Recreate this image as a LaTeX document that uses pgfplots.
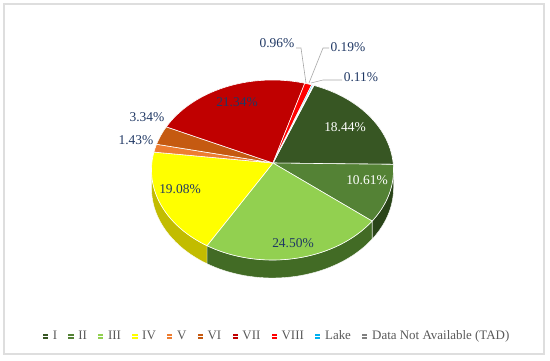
\documentclass[border=0pt]{standalone}
\usepackage{pgfplots}
\pgfplotsset{compat=1.18}
\usepackage{fontspec}
\setmainfont{Liberation Serif}
\definecolor{cI}{HTML}{375623}
\definecolor{cII}{HTML}{548235}
\definecolor{cIII}{HTML}{92D050}
\definecolor{cIV}{HTML}{FFFF00}
\definecolor{cV}{HTML}{ED7D31}
\definecolor{cVI}{HTML}{C55A11}
\definecolor{cVII}{HTML}{C00000}
\definecolor{cVIII}{HTML}{FF0000}
\definecolor{cLake}{HTML}{00B0F0}
\definecolor{cTAD}{HTML}{808080}
\definecolor{sII}{HTML}{2A4419}
\definecolor{sIII}{HTML}{426B25}
\definecolor{sIV}{HTML}{C2BC00}
\definecolor{lbl}{HTML}{203864}
\definecolor{lgd}{HTML}{595959}
% geometry of the tilted pie (pixel-like units)
\def\cx{272.5}\def\cy{190}\def\rx{121}\def\ry{90}\def\apx{273}\def\apy{197}\def\thick{18}
% shares in percent
\def\pI{18.44}\def\pII{10.61}\def\pIII{24.50}\def\pIV{19.08}\def\pV{1.43}%
\def\pVI{3.34}\def\pVII{21.34}\def\pVIII{0.96}\def\pLake{0.19}\def\pTAD{0.11}%
\pgfmathsetmacro\aI{70}%
\pgfmathsetmacro\bI{\aI-3.6*\pI}%
\pgfmathsetmacro\bII{\bI-3.6*\pII}%
\pgfmathsetmacro\bIII{\bII-3.6*\pIII}%
\pgfmathsetmacro\bIV{\bIII-3.6*\pIV}%
\pgfmathsetmacro\bV{\bIV-3.6*\pV}%
\pgfmathsetmacro\bVI{\bV-3.6*\pVI}%
\pgfmathsetmacro\bVII{\bVI-3.6*\pVII}%
\pgfmathsetmacro\bVIII{\bVII-3.6*\pVIII}%
\pgfmathsetmacro\bLake{\bVIII-3.6*\pLake}%
\pgfmathsetmacro\bTAD{\bLake-3.6*\pTAD}%
\tikzset{lab/.style={font=\fontsize{13.5}{15}\selectfont, inner sep=0pt}}
\begin{document}%
\begin{tikzpicture}
\begin{axis}[scale only axis, width=550bp, height=360bp,
  xmin=0, xmax=550, ymin=0, ymax=360, hide axis, clip=false,
  declare function={sang(\t,\p,\q)=(\t<=1)*(\p+(\q-\p)*\t)+(\t>1)*(\q+(\p-\q)*(\t-1)); sdrop(\t)=(\t>1)*\thick;},
  legend columns=10,
  legend image code/.code={\path[#1,draw=none] (0bp,-2.6bp) rectangle (5.2bp,2.6bp); \path (0bp,0bp) -- (7.6bp,0bp);},
  legend style={draw=none, fill=none, at={(0.5036,0.066)}, anchor=center,
    font=\fontsize{13}{15}\selectfont, text=lgd, inner sep=0pt,
    /tikz/every even column/.append style={column sep=9bp}}]
\path (axis cs:0,0) rectangle (axis cs:550,360);
\draw[color=black!13, line width=1.2bp] (axis cs:4,6) rectangle (axis cs:544,356);
% side walls
\addplot[forget plot, fill=sII, draw=white, line width=0.4pt, variable=\t,
  samples at={0,0.025,...,1,1.0001,1.025,1.05,...,1.975,2}]
  ({\cx+\rx*cos(sang(\t,0,\bII))},{\cy+\ry*sin(sang(\t,0,\bII))-sdrop(\t)}) -- cycle;
\addplot[forget plot, fill=sIII, draw=white, line width=0.4pt, variable=\t,
  samples at={0,0.025,...,1,1.0001,1.025,1.05,...,1.975,2}]
  ({\cx+\rx*cos(sang(\t,\bII,\bIII))},{\cy+\ry*sin(sang(\t,\bII,\bIII))-sdrop(\t)}) -- cycle;
\addplot[forget plot, fill=sIV, draw=white, line width=0.4pt, variable=\t,
  samples at={0,0.025,...,1,1.0001,1.025,1.05,...,1.975,2}]
  ({\cx+\rx*cos(sang(\t,\bIII,-180))},{\cy+\ry*sin(sang(\t,\bIII,-180))-sdrop(\t)}) -- cycle;
% top faces
\addplot[fill=cI, draw=white, line width=0.6pt, variable=\t, domain=\bI:\aI, samples=50]
  ({\cx+\rx*cos(\t)},{\cy+\ry*sin(\t)}) -- (axis cs:\apx,\apy) -- cycle;
\addplot[fill=cII, draw=white, line width=0.6pt, variable=\t, domain=\bII:\bI, samples=40]
  ({\cx+\rx*cos(\t)},{\cy+\ry*sin(\t)}) -- (axis cs:\apx,\apy) -- cycle;
\addplot[fill=cIII, draw=white, line width=0.6pt, variable=\t, domain=\bIII:\bII, samples=60]
  ({\cx+\rx*cos(\t)},{\cy+\ry*sin(\t)}) -- (axis cs:\apx,\apy) -- cycle;
\addplot[fill=cIV, draw=white, line width=0.6pt, variable=\t, domain=\bIV:\bIII, samples=50]
  ({\cx+\rx*cos(\t)},{\cy+\ry*sin(\t)}) -- (axis cs:\apx,\apy) -- cycle;
\addplot[fill=cV, draw=white, line width=0.6pt, variable=\t, domain=\bV:\bIV, samples=8]
  ({\cx+\rx*cos(\t)},{\cy+\ry*sin(\t)}) -- (axis cs:\apx,\apy) -- cycle;
\addplot[fill=cVI, draw=white, line width=0.6pt, variable=\t, domain=\bVI:\bV, samples=12]
  ({\cx+\rx*cos(\t)},{\cy+\ry*sin(\t)}) -- (axis cs:\apx,\apy) -- cycle;
\addplot[fill=cVII, draw=white, line width=0.6pt, variable=\t, domain=\bVII:\bVI, samples=50]
  ({\cx+\rx*cos(\t)},{\cy+\ry*sin(\t)}) -- (axis cs:\apx,\apy) -- cycle;
\addplot[fill=cVIII, draw=white, line width=0.6pt, variable=\t, domain=\bVIII:\bVII, samples=6]
  ({\cx+\rx*cos(\t)},{\cy+\ry*sin(\t)}) -- (axis cs:\apx,\apy) -- cycle;
\addplot[fill=cLake, draw=white, line width=0.6pt, variable=\t, domain=\bLake:\bVIII, samples=3]
  ({\cx+\rx*cos(\t)},{\cy+\ry*sin(\t)}) -- (axis cs:\apx,\apy) -- cycle;
\addplot[fill=cTAD, draw=white, line width=0.6pt, variable=\t, domain=\bTAD:\bLake, samples=3]
  ({\cx+\rx*cos(\t)},{\cy+\ry*sin(\t)}) -- (axis cs:\apx,\apy) -- cycle;
\legend{I,II,III,IV,V,VI,VII,VIII,Lake,Data Not Available (TAD)}
% leader lines
\addplot[forget plot, draw=black!35, line width=0.6pt] coordinates {(296,312) (301,312) (306,277)};
\addplot[forget plot, draw=black!35, line width=0.6pt] coordinates {(329,312) (323,312) (309,277)};
\addplot[forget plot, draw=black!35, line width=0.6pt] coordinates {(342,280) (323,280) (311,277)};
% labels
\node[lab, text=white] at (axis cs:345,233) {18.44\%};
\node[lab, text=white] at (axis cs:367,180) {10.61\%};
\node[lab, text=lbl] at (axis cs:293,117) {24.50\%};
\node[lab, text=lbl] at (axis cs:180,171) {19.08\%};
\node[lab, text=lbl] at (axis cs:237,258) {21.34\%};
\node[lab, text=lbl] at (axis cs:147,243) {3.34\%};
\node[lab, text=lbl] at (axis cs:136,220) {1.43\%};
\node[lab, text=lbl] at (axis cs:277,317) {0.96\%};
\node[lab, text=lbl] at (axis cs:348,313) {0.19\%};
\node[lab, text=lbl] at (axis cs:361,283) {0.11\%};
\end{axis}
\end{tikzpicture}%
\end{document}
